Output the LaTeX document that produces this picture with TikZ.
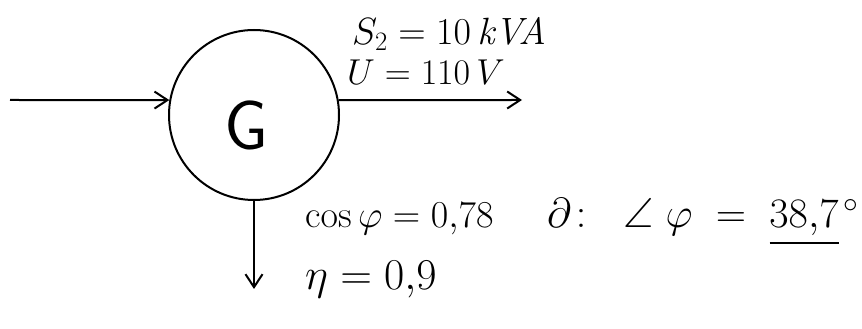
\RequirePackage{fix-cm}
\documentclass[tikz,border=0pt]{standalone}
\usepackage{amsmath,amssymb}
\usepackage{tikz}
\usetikzlibrary{arrows.meta,calc,positioning}

\begin{document}
\begin{tikzpicture}[x=1pt,y=1pt,>={Straight Barb[length=13pt,width=17pt,line width=2pt]},
  flow/.style={->,line width=2pt},
  lbl/.style={anchor=base west,inner sep=0pt,font=\fontsize{38}{42}\selectfont}]
  \useasboundingbox (0,0) rectangle (862,329);
  % generator
  \node[circle,draw,line width=2pt,minimum size=170pt,inner sep=0pt] (gen) at (254,214) {};
  \node[font=\fontsize{70}{80}\sffamily] (glbl) at (246,204) {G};
  % flows
  \coordinate (in) at (10,229);
  \coordinate (out) at (522,229);
  \coordinate (dn) at ([yshift=-88pt]gen.south);
  \draw[flow] (in) -- (gen.170);
  \draw[flow] (gen.10) -- (out);
  \draw[flow] (gen.south) -- (dn);
  % data
  \node[lbl] (srated) at (352,284) {$S_2 = 10\,\mathit{kVA}$};
  \node[lbl,font=\fontsize{36}{40}\selectfont] (volt) at (347,244) {$U = 110\,V$};
  \node[lbl] (pf) at (305,101) {$\cos\varphi = 0{,}78$};
  \node[lbl,font=\fontsize{42}{46}\selectfont] (ang) at (547,101)
    {$\partial\colon\;\;\angle\;\varphi\;=\;\underline{\rule[-9pt]{0pt}{9pt}38{,}7}^{\,\circ}$};
  \node[lbl,font=\fontsize{44}{48}\selectfont] (eff) at (305,39) {$\eta = 0{,}9$};
\end{tikzpicture}
\end{document}
